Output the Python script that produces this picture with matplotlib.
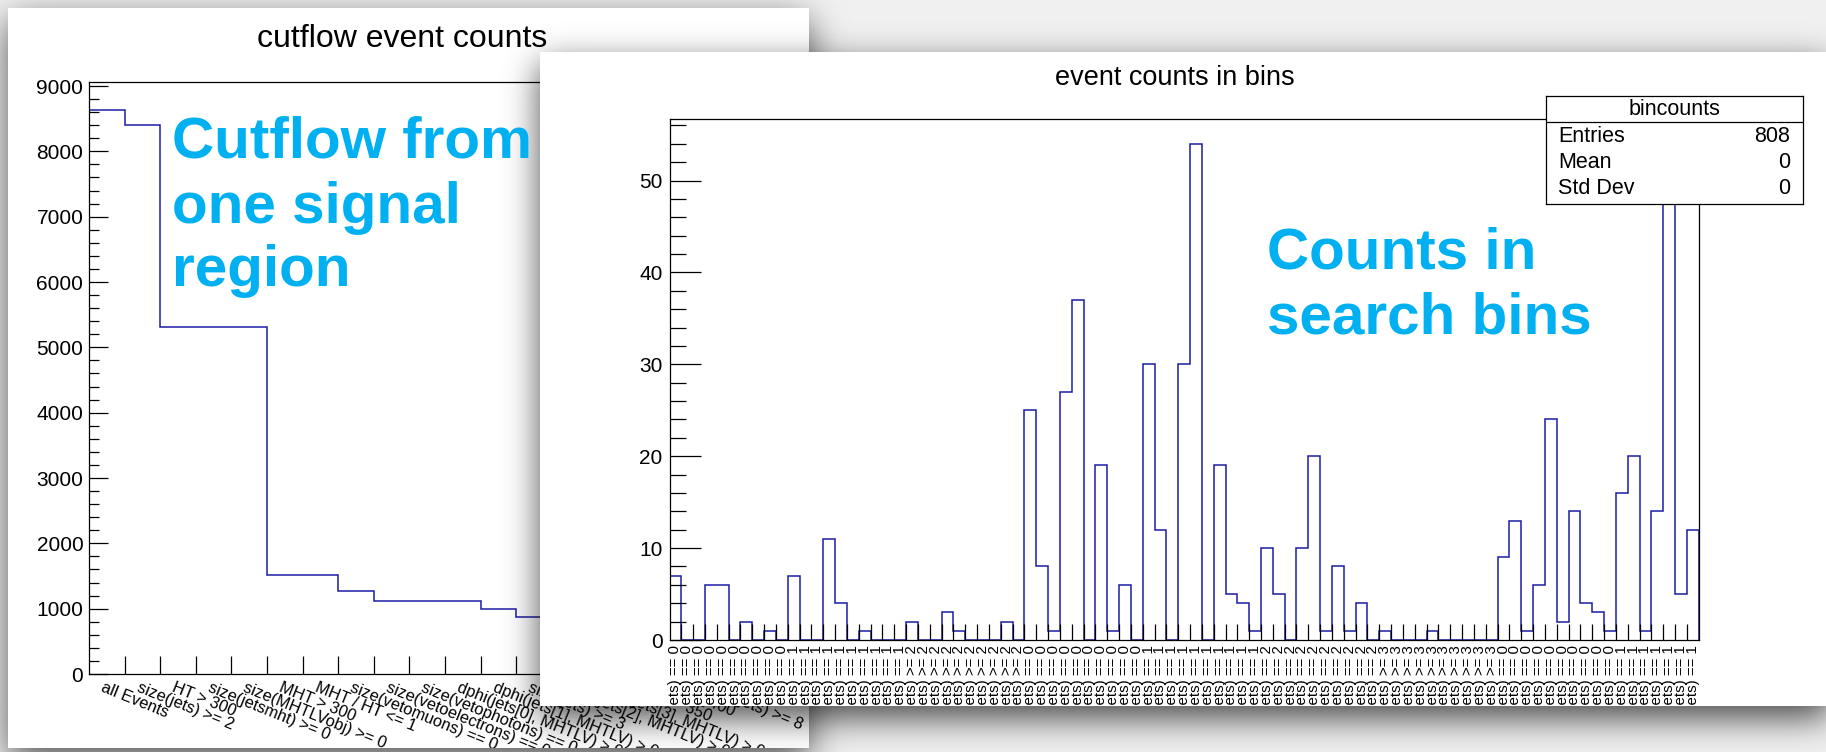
import math
import numpy as np
import matplotlib
matplotlib.use("Agg")
import matplotlib.pyplot as plt
from matplotlib.ticker import MultipleLocator, NullLocator
from matplotlib.transforms import blended_transform_factory, offset_copy

plt.rcParams['font.family'] = ['Liberation Sans', 'DejaVu Sans']

W, H, DPI = 1826, 752, 100

# ---- cutflow of one signal region ----
cut_labels = [
    "all Events", "size(jets) >= 2", "HT > 300", "size(jetsmht) >= 0",
    "size(MHTLVobj) >= 0", "MHT > 300", "MHT / HT <= 1", "size(vetomuons) == 0",
    "size(vetoelectrons) == 0", "size(vetophotons) == 0",
    "dphi(jets[0], MHTLV) > 0.5", "dphi(jets[1], MHTLV) > 0.5",
    "size(jets) >= 3", "dphi(jets[2], MHTLV) > 0.3", "dphi(jets[3], MHTLV) > 0.3",
    "MHT > 350", "HT > 400", "size(jets) >= 8",
]
cut_counts = [8630, 8400, 5310, 5310, 5310, 1510, 1510, 1265, 1110, 1110,
              1110, 990, 880, 860, 700, 640, 610, 480]

# ---- event counts in the search bins ----
search_groups = [  # (operator, number of b jets, bins in group)
    ("==", 0, 10), ("==", 1, 10), (">=", 2, 10),
    ("==", 0, 10), ("==", 1, 10), ("==", 2, 10), (">=", 3, 10),
    ("==", 0, 10), ("==", 1, 7),
]
search_labels = [f"size(bjets) {op} {n}" for op, n, k in search_groups for _ in range(k)]
search_counts = [7, 0, 0, 6, 6, 0, 2, 0, 1, 0,
                 7, 0, 0, 11, 4, 0, 1, 0, 0, 0,
                 2, 0, 0, 3, 1, 0, 0, 0, 2, 0,
                 25, 8, 1, 27, 37, 0, 19, 1, 6, 0,
                 30, 12, 0, 30, 54, 0, 19, 5, 4, 1,
                 10, 5, 0, 10, 20, 1, 8, 1, 4, 0,
                 1, 0, 0, 0, 1, 0, 0, 0, 0, 0,
                 9, 13, 1, 6, 24, 2, 14, 4, 3, 1,
                 16, 20, 1, 14, 50, 5, 12]
search_ymax = 54 * 1.05
stats_name = "bincounts"
stats_rows = [("Entries", "808"), ("Mean", "0"), ("Std Dev", "0")]

HIST_BLUE = "#1c1ca6"
NOTE_BLUE = "#00b0f0"
PX = 72.0 / DPI  # points per pixel

fig = plt.figure(figsize=(W / DPI, H / DPI), dpi=DPI)


def rect(x0, y0, x1, y1):
    """Figure-fraction rectangle from a pixel box measured from the top-left."""
    return [x0 / W, 1 - y1 / H, (x1 - x0) / W, (y1 - y0) / H]


_erf = np.vectorize(math.erf)


def soft_span(n, a, b, sigma):
    t = np.arange(n) + 0.5
    s = sigma * math.sqrt(2)
    return 0.5 * (_erf((t - a) / s) - _erf((t - b) / s))


def window_shadow(box, dy, sigma, strength):
    x0, y0, x1, y1 = box
    return strength * np.outer(soft_span(H, y0 + dy, y1 + dy, sigma),
                               soft_span(W, x0, x1, sigma))


LEFT_WIN = (8, 8, 809, 748)
RIGHT_WIN = (540, 52, 1830, 706)

# desktop background with the shadow of the back window
bg = 0.94 * (1 - window_shadow(LEFT_WIN, 12, 18, 0.65))
ax_bg = fig.add_axes([0, 0, 1, 1], zorder=0)
ax_bg.imshow(bg, cmap='gray', vmin=0, vmax=1, aspect='auto', interpolation='bilinear')
ax_bg.set_axis_off()


def window(box, z):
    a = fig.add_axes(rect(*box), zorder=z)
    a.set_facecolor('white')
    a.set_xticks([])
    a.set_yticks([])
    for s in a.spines.values():
        s.set_visible(False)
    return a


def root_frame(a):
    for s in a.spines.values():
        s.set_linewidth(0.9)
        s.set_color('black')
    a.set_facecolor('none')


# ================= back window: cutflow =================
win_l = window(LEFT_WIN, 1)
fig.text(402 / W, 1 - 47 / H, "cutflow event counts", ha='center', va='baseline',
         fontsize=23, zorder=1.5)

ax_l = fig.add_axes(rect(88.9, 82, 729.7, 674), zorder=2)
root_frame(ax_l)
edges_l = np.arange(len(cut_counts) + 1)
ax_l.stairs(cut_counts, edges_l, color=HIST_BLUE, lw=1.1, baseline=0)
ax_l.set_xlim(0, len(cut_counts))
ax_l.set_ylim(0, 1.05 * max(cut_counts))
ax_l.yaxis.set_major_locator(MultipleLocator(1000))
ax_l.yaxis.set_minor_locator(MultipleLocator(200))
ax_l.tick_params(axis='y', which='major', direction='in', length=19 * PX, width=0.9,
                 labelsize=15, pad=4)
ax_l.tick_params(axis='y', which='minor', direction='in', length=9.5 * PX, width=0.9)
ax_l.set_xticks(edges_l[1:-1])
ax_l.xaxis.set_minor_locator(NullLocator())
ax_l.tick_params(axis='x', direction='in', length=18 * PX, width=0.9, labelbottom=False)

tr_l = offset_copy(blended_transform_factory(ax_l.transData, ax_l.transAxes),
                   fig=fig, x=-2, y=-6, units='dots')
for i, lab in enumerate(cut_labels):
    t = ax_l.text(i + 0.5, 0, lab, transform=tr_l, rotation=-22, rotation_mode='anchor',
                  ha='left', va='top', fontsize=11.8, clip_on=True)
    t.set_clip_path(win_l.patch)

# shadow thrown by the front window
sh = window_shadow(RIGHT_WIN, 12, 17, 0.7)
rgba = np.zeros((H, W, 4))
rgba[..., 3] = sh
ax_sh = fig.add_axes([0, 0, 1, 1], zorder=3)
ax_sh.imshow(rgba, aspect='auto', interpolation='bilinear')
ax_sh.set_axis_off()

# ================= front window: search bins =================
win_r = window(RIGHT_WIN, 4)
fig.text(1175 / W, 1 - 85 / H, "event counts in bins", ha='center', va='baseline',
         fontsize=19.5, zorder=4.5)

ax_r = fig.add_axes(rect(669.5, 119, 1698.7, 640), zorder=5)
root_frame(ax_r)
nbins = len(search_counts)
edges_r = np.arange(nbins + 1)
ax_r.stairs(search_counts, edges_r, color=HIST_BLUE, lw=1.1, baseline=0)
ax_r.set_xlim(0, nbins)
ax_r.set_ylim(0, search_ymax)
ax_r.yaxis.set_major_locator(MultipleLocator(10))
ax_r.yaxis.set_minor_locator(MultipleLocator(2))
ax_r.tick_params(axis='y', which='major', direction='in', length=31 * PX, width=0.9,
                 labelsize=15, pad=5)
ax_r.tick_params(axis='y', which='minor', direction='in', length=15.5 * PX, width=0.9)
ax_r.set_xticks(edges_r[1:-1])
ax_r.xaxis.set_minor_locator(NullLocator())
ax_r.tick_params(axis='x', direction='in', length=16 * PX, width=0.9, labelbottom=False)

tr_r = offset_copy(blended_transform_factory(ax_r.transData, ax_r.transAxes),
                   fig=fig, x=0, y=-5, units='dots')
for i, lab in enumerate(search_labels):
    t = ax_r.text(i + 0.5, 0, lab, transform=tr_r, rotation=90, ha='center', va='top',
                  fontsize=10.8, clip_on=True)
    t.set_clip_path(win_r.patch)

# statistics box
ax_st = fig.add_axes(rect(1545.7, 95.5, 1803.3, 204), zorder=6)
ax_st.set_facecolor('white')
ax_st.set_xticks([])
ax_st.set_yticks([])
for s in ax_st.spines.values():
    s.set_linewidth(0.9)
ax_st.set_xlim(1545.7, 1803.3)
ax_st.set_ylim(204, 95.5)
ax_st.axhline(122, color='black', lw=0.9)
ax_st.text(1674.5, 109.5, stats_name, ha='center', va='center', fontsize=15.5)
for (name, val), y in zip(stats_rows, (136, 162.5, 189)):
    ax_st.text(1558, y, name, ha='left', va='center', fontsize=15.5)
    ax_st.text(1790, y, val, ha='right', va='center', fontsize=15.5)

# slide annotations
for txt, x, y in (("Cutflow from", 172, 158), ("one signal", 172, 223), ("region", 172, 286),
                  ("Counts in", 1267, 268), ("search bins", 1267, 334)):
    fig.text(x / W, 1 - y / H, txt, ha='left', va='baseline', fontsize=42,
             fontweight='bold', color=NOTE_BLUE, zorder=10)

fig.savefig("out.png", dpi=DPI)
